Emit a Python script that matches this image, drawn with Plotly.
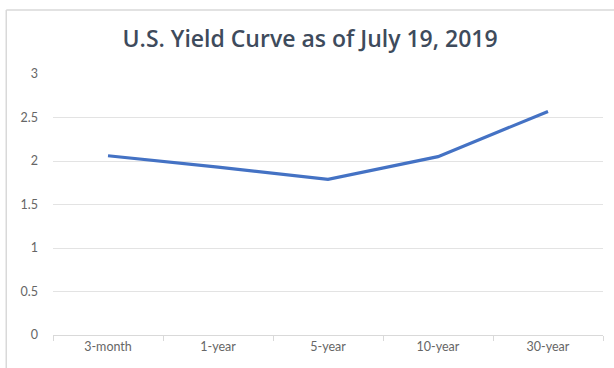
import plotly.graph_objects as go

maturities = ["3-month", "1-year", "5-year", "10-year", "30-year"]
yields = [2.06, 1.93, 1.79, 2.05, 2.57]
y_ticks = [0, 0.5, 1, 1.5, 2, 2.5, 3]
y_tick_labels = ["0", "0.5", "1", "1.5", "2", "2.5", "3"]

fig = go.Figure()
fig.add_trace(go.Scatter(
    x=maturities, y=yields, mode="lines",
    line=dict(color="#4472C4", width=3.2),
    showlegend=False, hoverinfo="skip",
))

border = dict(color="#D9D9D9", width=1.5)
fig.update_layout(
    width=614, height=368,
    margin=dict(l=53, r=11, t=74, b=33),
    paper_bgcolor="white", plot_bgcolor="white",
    title=dict(
        text="U.S. Yield Curve as of July 19, 2019",
        x=0.505, xanchor="center", y=0.893, yanchor="middle",
        font=dict(family="Open Sans", size=23, color="#3E4B5C", weight=600),
        automargin=False,
    ),
    xaxis=dict(
        type="category", automargin=False,
        showgrid=False,
        showline=True, linecolor="#D9D9D9", linewidth=1,
        ticks="outside", tickson="boundaries", ticklen=5, tickcolor="#D9D9D9",
        tickfont=dict(family="Lato", size=12.5, color="#666666"),
        range=[-0.5, 4.5],
    ),
    yaxis=dict(
        range=[0, 3], tickvals=y_ticks, ticktext=y_tick_labels,
        automargin=False,
        showgrid=True, gridcolor="#E3E3E3", gridwidth=1,
        zeroline=False, showline=False, ticks="",
        ticklabelstandoff=14,
        tickfont=dict(family="Lato", size=12.5, color="#666666"),
    ),
    shapes=[
        dict(type="line", xref="paper", yref="paper",
             x0=-0.085, x1=1.2, y0=1.245, y1=1.245, line=border),
        dict(type="line", xref="paper", yref="paper",
             x0=-0.085, x1=-0.085, y0=-0.5, y1=1.245, line=border),
    ],
)

fig.write_html(
    "out.html",
    config={"displayModeBar": False},
    post_script="document.body.style.margin='0';document.body.style.overflow='hidden';document.documentElement.style.overflow='hidden';",
)
